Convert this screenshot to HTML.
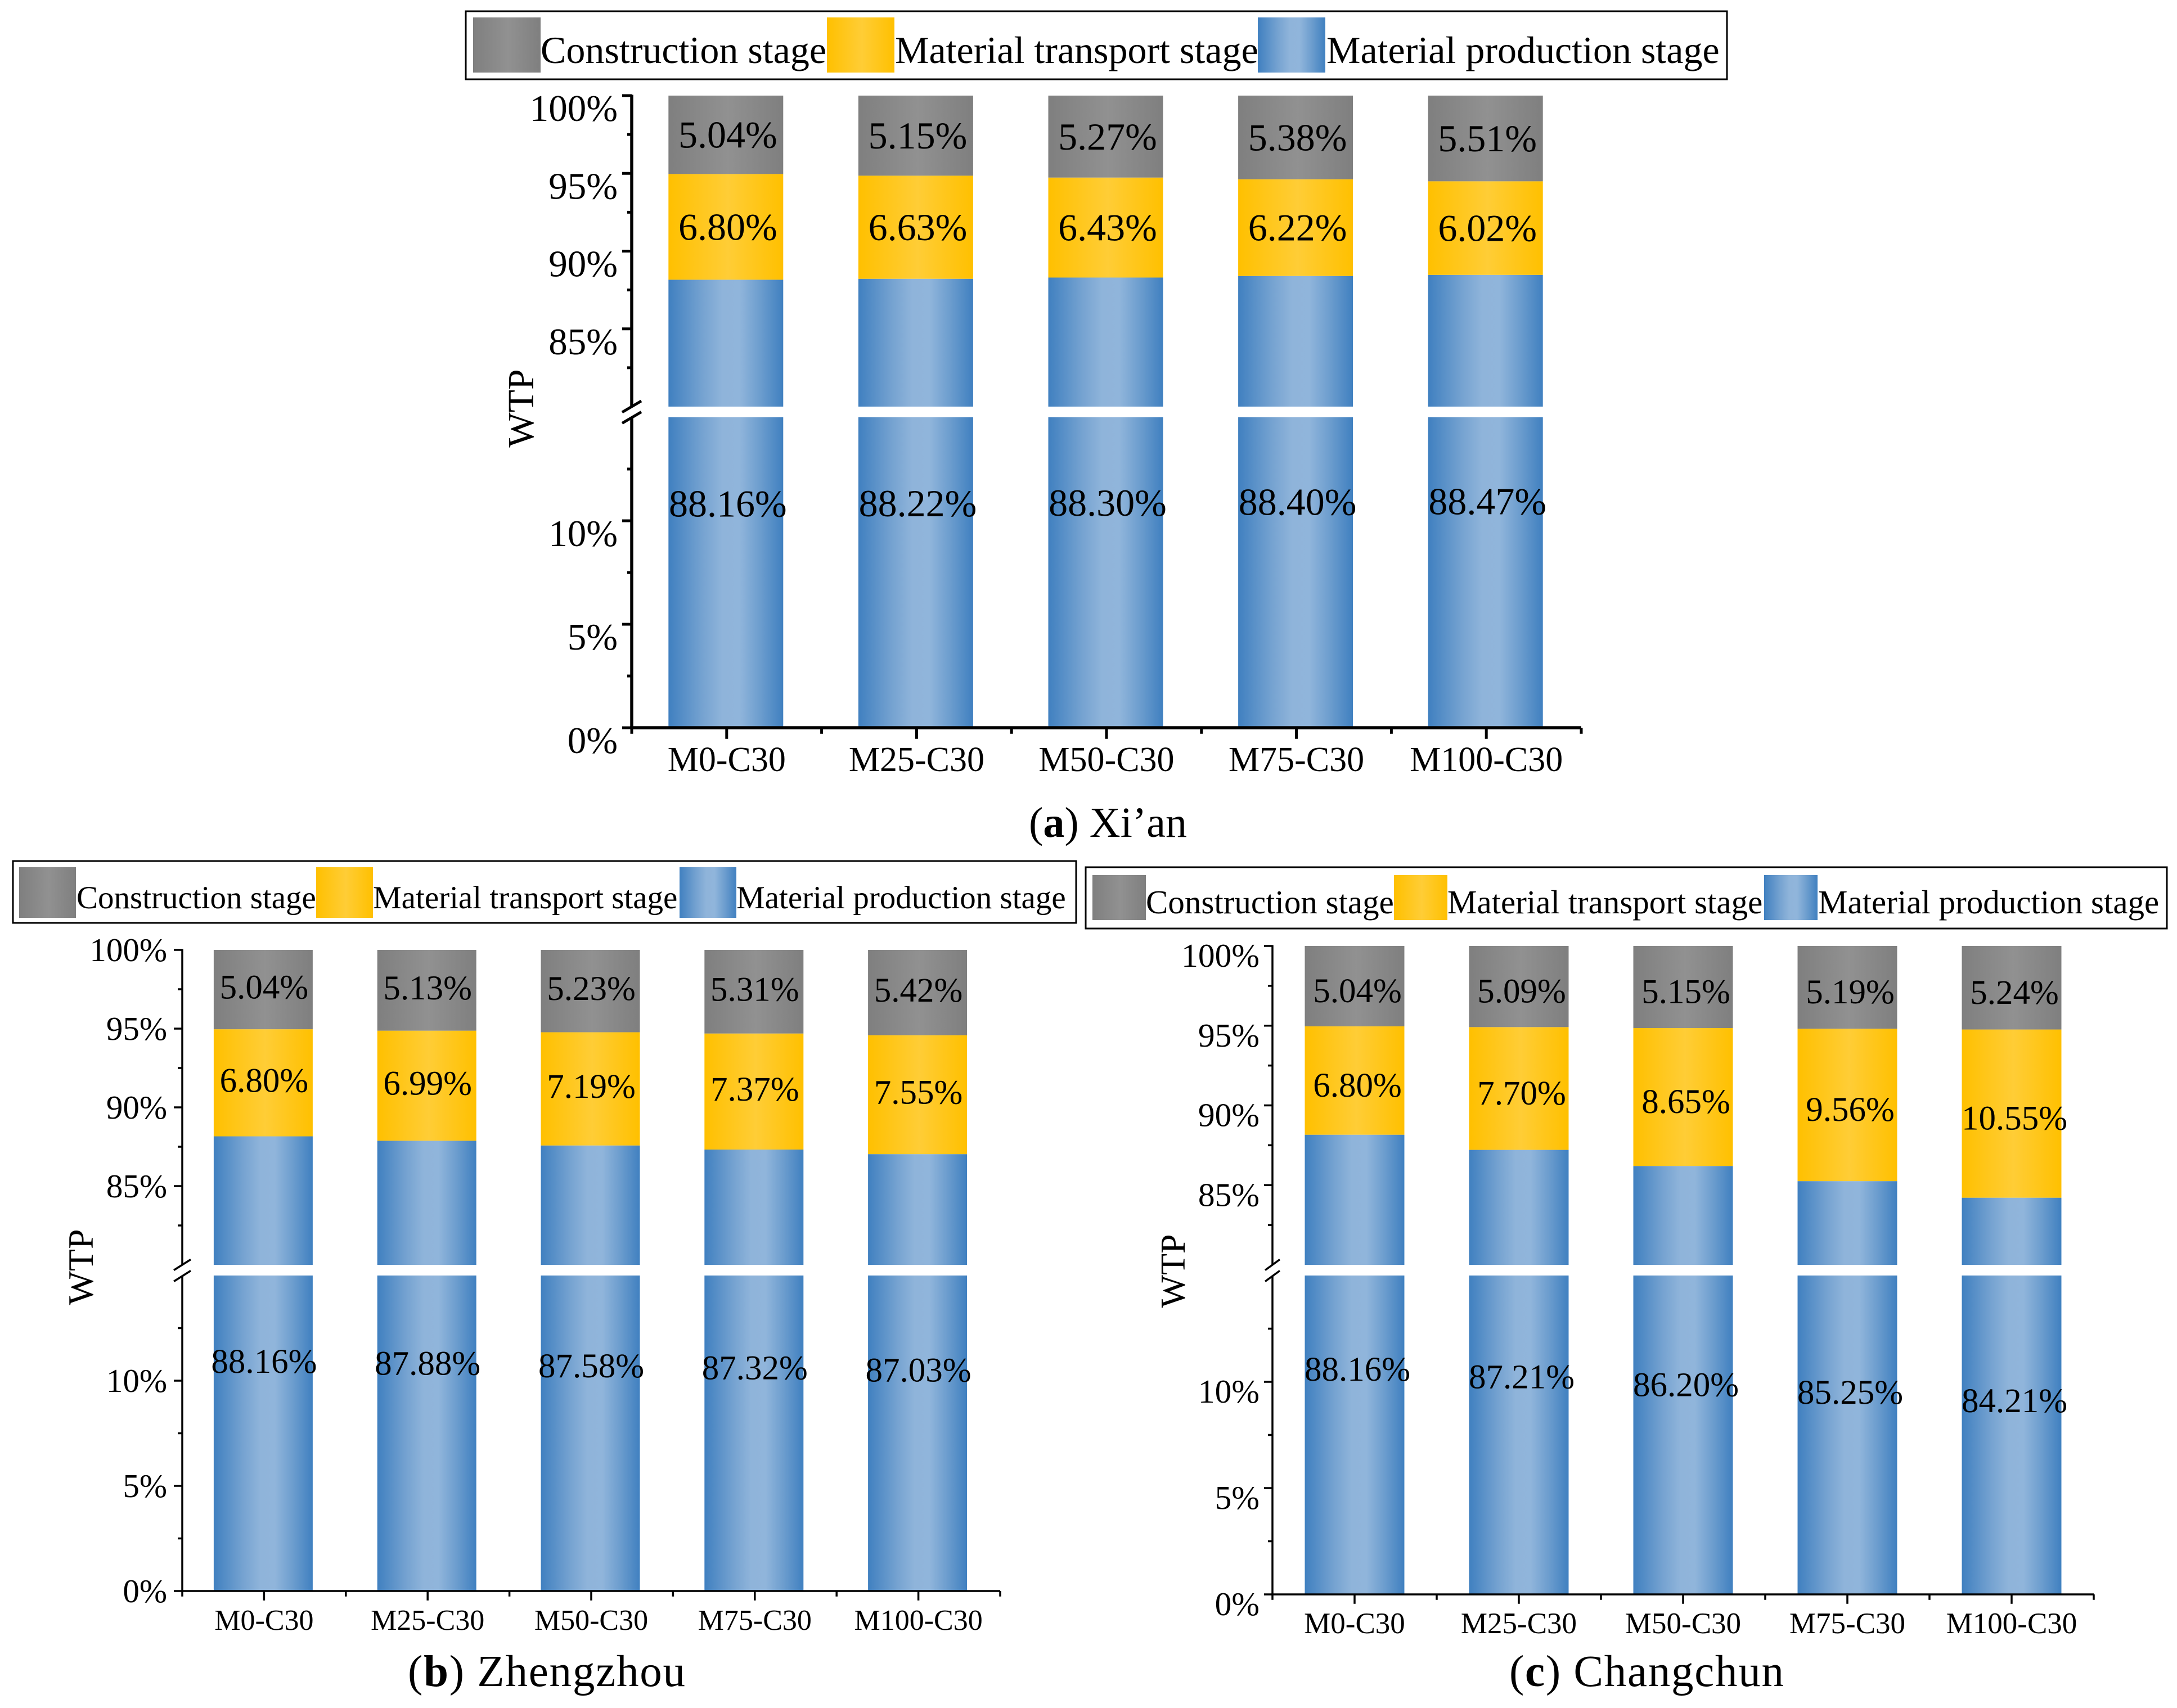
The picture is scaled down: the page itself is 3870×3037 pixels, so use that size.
<!DOCTYPE html>
<html lang="en">
<head>
<meta charset="utf-8">
<title>WTP stage contribution by city</title>
<style>
html,body{margin:0;padding:0;background:#fff;}
svg{display:block;}
text{font-family:"Liberation Serif",serif;fill:#000;}
</style>
</head>
<body>
<svg id="chart" xmlns="http://www.w3.org/2000/svg" width="3870" height="3037" viewBox="0 0 3870 3037">
  <defs>
    <linearGradient id="grad-blue" x1="0" x2="1" y1="0" y2="0">
      <stop offset="0" stop-color="#4080c0"/><stop offset="0.3" stop-color="#76a3d1"/><stop offset="0.47" stop-color="#8fb4da"/><stop offset="0.62" stop-color="#90b5db"/><stop offset="0.8" stop-color="#6c9dce"/><stop offset="1" stop-color="#4080c0"/>
    </linearGradient>
    <linearGradient id="grad-orange" x1="0" x2="1" y1="0" y2="0">
      <stop offset="0" stop-color="#ffc000"/><stop offset="0.52" stop-color="#ffcd36"/><stop offset="1" stop-color="#ffc000"/>
    </linearGradient>
    <linearGradient id="grad-gray" x1="0" x2="1" y1="0" y2="0">
      <stop offset="0" stop-color="#7f7f7f"/><stop offset="0.52" stop-color="#919191"/><stop offset="1" stop-color="#7f7f7f"/>
    </linearGradient>
  </defs>
</svg>
<script>
// ---- data ----
const categories = ['M0-C30', 'M25-C30', 'M50-C30', 'M75-C30', 'M100-C30'];
const stageNames = ['Construction stage', 'Material transport stage', 'Material production stage'];

const productionXian = [88.16, 88.22, 88.30, 88.40, 88.47];
const transportXian = [6.80, 6.63, 6.43, 6.22, 6.02];
const constructionXian = [5.04, 5.15, 5.27, 5.38, 5.51];

const productionZhengzhou = [88.16, 87.88, 87.58, 87.32, 87.03];
const transportZhengzhou = [6.80, 6.99, 7.19, 7.37, 7.55];
const constructionZhengzhou = [5.04, 5.13, 5.23, 5.31, 5.42];

const productionChangchun = [88.16, 87.21, 86.20, 85.25, 84.21];
const transportChangchun = [6.80, 7.70, 8.65, 9.56, 10.55];
const constructionChangchun = [5.04, 5.09, 5.15, 5.19, 5.24];

const yMajorTicks = [0, 5, 10, 85, 90, 95, 100];
const yMinorTicks = [2.5, 7.5, 12.5, 82.5, 87.5, 92.5, 97.5];
const yTickLabels = ['0%', '5%', '10%', '85%', '90%', '95%', '100%'];

// ---- layout (geometry of each panel, not data) ----
const BREAK_LOW = 15;
const BREAK_HIGH = 80;
const svg = document.getElementById('chart');
const NS = 'http://www.w3.org/2000/svg';

const layoutA = {id:'xian', production:productionXian, transport:transportXian, construction:constructionXian,
  axisX:1123, axisRight:2811, yTop:170, yUpperEnd:723, yLowerStart:742, yBase:1294, barWidth:204, barDx:-1.5,
  axisW:5.5, tickW:5, majorLen:17, minorLen:8, tickFont:67, tickRight:1098, tickDy:45,
  catFont:62, catBaseline:1371, dataFont:68, dataDy:23, dataDx:2,
  wtpX:948, wtpY:726, wtpFont:66,
  legend:{x1:828, x2:3070, y1:20, y2:141, swatchX:[841,1470,2236], swatchW:120, swatchY1:31, swatchY2:129, textX:[961,1591,2358], font:68, baseline:112},
  caption:{letter:'a', place:'Xi\u2019an', x:1829, y:1488, font:76, len:281},
  slash:{dx:17, dy:10, y1:723, y2:742.5}};

const layoutB = {id:'zhengzhou', production:productionZhengzhou, transport:transportZhengzhou, construction:constructionZhengzhou,
  axisX:324, axisRight:1778, yTop:1689, yUpperEnd:2249, yLowerStart:2268, yBase:2829, barWidth:176, barDx:-1.5,
  axisW:3.5, tickW:3.5, majorLen:15, minorLen:8, tickFont:59, tickRight:297, tickDy:20,
  catFont:52, catBaseline:2898, dataFont:61, dataDy:16, dataDx:0,
  wtpX:165, wtpY:2253, wtpFont:64,
  legend:{x1:23, x2:1913, y1:1531, y2:1641, swatchX:[34,562,1208], swatchW:101, swatchY1:1542, swatchY2:1632, textX:[136,663,1309], font:57, baseline:1615},
  caption:{letter:'b', place:'Zhengzhou', x:725, y:2998, font:79, len:493},
  slash:{dx:15, dy:9.5, y1:2249, y2:2269}};

const layoutC = {id:'changchun', production:productionChangchun, transport:transportChangchun, construction:constructionChangchun,
  axisX:2262, axisRight:3722, yTop:1682, yUpperEnd:2249, yLowerStart:2268, yBase:2835, barWidth:177, barDx:0,
  axisW:3.5, tickW:3.5, majorLen:15, minorLen:8, tickFont:59.5, tickRight:2239, tickDy:37,
  catFont:53, catBaseline:2904, dataFont:61, dataDy:28.5, dataDx:5,
  wtpX:2106, wtpY:2260, wtpFont:62,
  legend:{x1:1930, x2:3852, y1:1542, y2:1651, swatchX:[1942,2478,3136], swatchW:95, swatchY1:1556, swatchY2:1636, textX:[2037,2573,3232], font:59, baseline:1624},
  caption:{letter:'c', place:'Changchun', x:2683, y:2998, font:79, len:488},
  slash:{dx:13, dy:9.5, y1:2249, y2:2269}};

// ---- helpers ----
function make(tag, parent, attrs){
  const node = document.createElementNS(NS, tag);
  for (const k in attrs) node.setAttribute(k, attrs[k]);
  parent.appendChild(node);
  return node;
}
function yScale(p, v){
  if (v >= BREAK_HIGH) {
    return p.yTop + (100 - v) * (p.yUpperEnd - p.yTop) / (100 - BREAK_HIGH);
  }
  return p.yBase - v * (p.yBase - p.yLowerStart) / BREAK_LOW;
}
function xScale(p, i){
  return p.axisX + (i + 0.5) * (p.axisRight - p.axisX) / categories.length;
}
function seg(parent, p, x1, y1, x2, y2, w){
  return make('line', parent, {x1:x1, y1:y1, x2:x2, y2:y2, stroke:'#000', 'stroke-width':w});
}

function drawLegend(g, p){
  const l = p.legend;
  const fills = ['url(#grad-gray)', 'url(#grad-orange)', 'url(#grad-blue)'];
  const box = make('g', g, {});
  
  
  const frame = make('rect', box, {x:l.x1, y:l.y1, width:l.x2 - l.x1, height:l.y2 - l.y1, fill:'#fff', stroke:'#000', 'stroke-width':3});
  
  
  stageNames.forEach(function(name, i){
    const sw = make('rect', box, {x:l.swatchX[i], y:l.swatchY1, width:l.swatchW, height:l.swatchY2 - l.swatchY1, fill:fills[i]});
    
    
    const t = make('text', box, {x:l.textX[i], y:l.baseline, 'font-size':l.font});
    
    
    t.textContent = name;
  });
}

function drawAxes(g, p){
  const axes = make('g', g, {});
  
  

  const yUp = seg(axes, p, p.axisX, p.yTop - 1.5, p.axisX, p.yUpperEnd, p.axisW);
  
  
  const yLow = seg(axes, p, p.axisX, p.yLowerStart, p.axisX, p.yBase + p.axisW / 2, p.axisW);
  
  
  const xAxis = seg(axes, p, p.axisX - p.axisW / 2, p.yBase, p.axisRight, p.yBase, p.axisW);
  
  

  [p.slash.y1, p.slash.y2].forEach(function(cy){
    const s = seg(axes, p, p.axisX - p.slash.dx, cy + p.slash.dy, p.axisX + p.slash.dx, cy - p.slash.dy, p.tickW);
    
    
  });

  yMajorTicks.forEach(function(v, i){
    const y = yScale(p, v);
    const tick = seg(axes, p, p.axisX - p.majorLen, y, p.axisX, y, p.tickW);
    
    
    const label = make('text', axes, {x:p.tickRight, y:y + p.tickDy, 'font-size':p.tickFont, 'text-anchor':'end'});
    
    
    label.textContent = yTickLabels[i];
  });
  yMinorTicks.forEach(function(v){
    const y = yScale(p, v);
    const tick = seg(axes, p, p.axisX - p.minorLen, y, p.axisX, y, p.tickW);
    
    
  });

  categories.forEach(function(name, i){
    const cx = xScale(p, i);
    const tick = seg(axes, p, cx, p.yBase, cx, p.yBase + p.majorLen + p.axisW / 2, p.tickW);
    
    
    const label = make('text', axes, {x:cx, y:p.catBaseline, 'font-size':p.catFont, 'text-anchor':'middle'});
    
    
    label.textContent = name;
  });
  for (let i = 0; i <= categories.length; i++) {
    const mx = xScale(p, i - 0.5);
    const tick = seg(axes, p, mx, p.yBase, mx, p.yBase + p.minorLen + p.axisW / 2, p.tickW);
    
    
  }

  const title = make('text', axes, {x:p.wtpX, y:p.wtpY, 'font-size':p.wtpFont, 'text-anchor':'middle', transform:'rotate(-90 ' + p.wtpX + ' ' + p.wtpY + ')'});
  
  
  title.textContent = 'WTP';
}

function drawBars(g, p){
  const bars = make('g', g, {});
  
  
  const labels = [];
  categories.forEach(function(name, i){
    const cx = xScale(p, i);
    const x0 = cx - p.barWidth / 2 + p.barDx;
    const prod = p.production[i];
    const trans = p.transport[i];
    const cons = p.construction[i];
    const yProd = yScale(p, prod);
    const yTrans = yScale(p, prod + trans);
    const yCons = yScale(p, prod + trans + cons);

    const low = make('rect', bars, {x:x0, y:yScale(p, BREAK_LOW), width:p.barWidth, height:p.yBase - yScale(p, BREAK_LOW), fill:'url(#grad-blue)'});
    
    
    const up = make('rect', bars, {x:x0, y:yProd, width:p.barWidth, height:yScale(p, BREAK_HIGH) - yProd, fill:'url(#grad-blue)'});
    
    
    const tr = make('rect', bars, {x:x0, y:yTrans, width:p.barWidth, height:yProd - yTrans, fill:'url(#grad-orange)'});
    
    
    const co = make('rect', bars, {x:x0, y:yCons, width:p.barWidth, height:yTrans - yCons, fill:'url(#grad-gray)'});
    
    

    labels.push([cx, (yCons + yTrans) / 2, cons]);
    labels.push([cx, (yTrans + yProd) / 2, trans]);
    labels.push([cx, (yProd + p.yBase) / 2, prod]);
  });
  labels.forEach(function(item){
    const t = make('text', bars, {x:item[0] + p.dataDx, y:item[1] + p.dataDy, 'font-size':p.dataFont, 'text-anchor':'middle'});
    
    
    t.textContent = item[2].toFixed(2) + '%';
  });
}

function drawCaption(g, p){
  const c = p.caption;
  const t = make('text', g, {x:c.x, y:c.y, 'font-size':c.font, textLength:c.len, lengthAdjust:'spacing'});
  
  
  t.appendChild(document.createTextNode('('));
  const b = make('tspan', t, {'font-weight':'bold'});
  b.textContent = c.letter;
  t.appendChild(document.createTextNode(') ' + c.place));
}

[layoutA, layoutB, layoutC].forEach(function(p){
  const g = make('g', svg, {});
  
  
  drawBars(g, p);
  drawAxes(g, p);
  drawLegend(g, p);
  drawCaption(g, p);
});
</script>
</body>
</html>
